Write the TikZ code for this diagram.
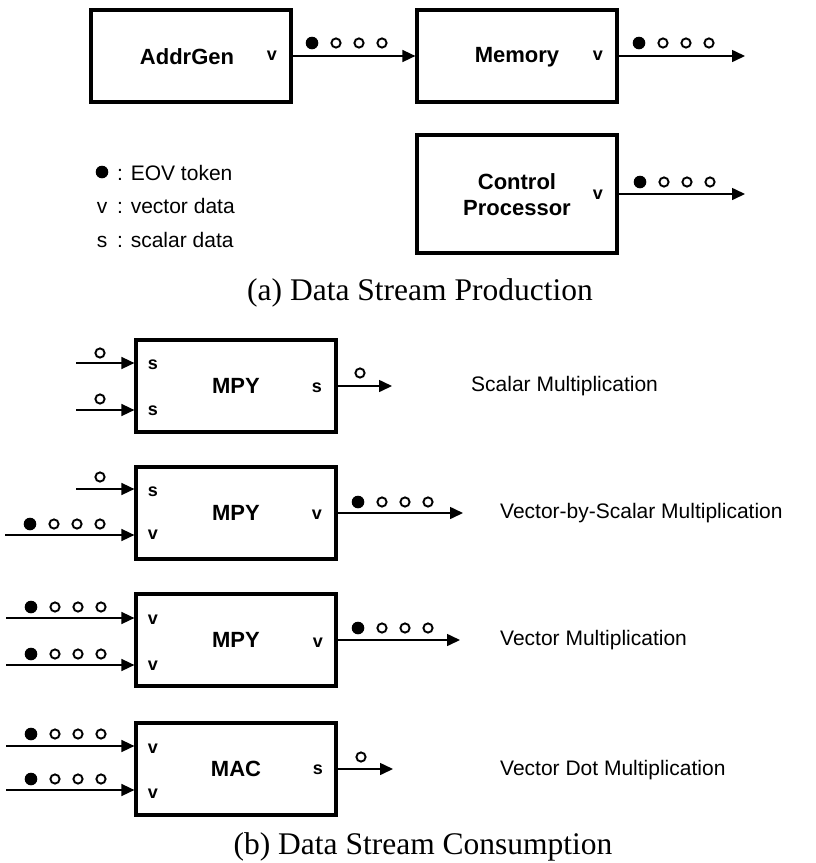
\documentclass[tikz,border=0pt]{standalone}
\usepackage{fontspec}
\setmainfont{Liberation Serif}
\setsansfont{Liberation Sans}
\usetikzlibrary{arrows.meta}
\tikzset{
  blk/.style={draw, line width=3.2pt, minimum width=200pt, minimum height=92pt, inner sep=0pt,
    font=\sffamily\bfseries\fontsize{22}{25}\selectfont, align=center},
  port/.style={font=\sffamily\bfseries\fontsize{18}{20}\selectfont, inner sep=0pt},
  txt/.style={font=\sffamily\fontsize{21}{24}\selectfont, inner sep=0pt, anchor=west},
  legtxt/.style={font=\sffamily\fontsize{21}{24}\selectfont, inner sep=0pt, anchor=base west},
  legsym/.style={font=\sffamily\fontsize{21}{24}\selectfont, inner sep=0pt, anchor=base},
  captxt/.style={font=\rmfamily\fontsize{31.5}{34}\selectfont, inner sep=0pt},
  arr/.style={line width=1.6pt, -{Triangle[length=13pt,width=12pt]}},
}
\newcommand{\tokF}[2]{\fill (#1,#2) circle (6.3pt);}
\newcommand{\tokO}[2]{\draw[line width=1.9pt] (#1,#2) circle (4.6pt);}
\newcommand{\tokRow}[2]{\tokF{#1}{#2}\tokO{#1+24}{#2}\tokO{#1+47}{#2}\tokO{#1+70}{#2}}
\begin{document}
\begin{tikzpicture}[x=1pt,y=-1pt]
\useasboundingbox (0,0) rectangle (816,863);

% ---------- (a) production ----------
\node[blk] (ag) at (191,56) {};
\node[blk] (mem) at (517,56) {};
\node[blk, minimum height=118pt] (cp) at (517,194) {};
\node[font=\sffamily\bfseries\fontsize{22}{25}\selectfont] (agt) at (187,57) {AddrGen};
\node[font=\sffamily\bfseries\fontsize{22}{25}\selectfont] (memt) at (517,57) {Memory};
\node[font=\sffamily\bfseries\fontsize{22}{26}\selectfont, align=center] (cpt) at (517,195) {Control\\Processor};
\node[port] (agv) at (272,56) {v};
\node[port] (memv) at (598,56) {v};
\node[port] (cpv) at (598,195) {v};

\coordinate (memo) at (745,56);
\coordinate (cpo) at (745,194);
\draw[arr] (ag.east) -- (mem.west);
\draw[arr] (mem.east) -- (memo);
\draw[arr] (cp.east |- cpo) -- (cpo);
\tokRow{312}{43}
\tokRow{639}{43}
\tokRow{640}{182}

% legend
\fill (102,172) circle (6.3pt);
\node[legtxt] (l1) at (117,180) {: EOV token};
\node[legsym] (l2s) at (102,213) {v};
\node[legtxt] (l2) at (117,213) {: vector data};
\node[legsym] (l3s) at (102,247) {s};
\node[legtxt] (l3) at (117,247) {: scalar data};

\node[captxt] (capa) at (420,293) {(a) Data Stream Production};

% ---------- (b) consumption ----------
% box 1 : scalar multiplication
\node[blk] (m1) at (236,386) {MPY};
\node[port] (m1a) at (153,365) {s};
\node[port] (m1b) at (153,411) {s};
\node[port] (m1o) at (317,388) {s};
\coordinate (i1a) at (76,363);
\coordinate (i1b) at (76,410);
\coordinate (o1) at (392,386);
\draw[arr] (i1a) -- (m1.west |- i1a);
\draw[arr] (i1b) -- (m1.west |- i1b);
\draw[arr] (m1.east |- o1) -- (o1);
\tokO{100}{353}
\tokO{100}{399}
\tokO{360}{373}
\node[txt] (t1) at (471,386) {Scalar Multiplication};

% box 2 : vector-by-scalar
\node[blk] (m2) at (236,513) {MPY};
\node[port] (m2a) at (153,492) {s};
\node[port] (m2b) at (153,535) {v};
\node[port] (m2o) at (317,515) {v};
\coordinate (i2a) at (76,489);
\coordinate (i2b) at (5,535);
\coordinate (o2) at (463,513);
\draw[arr] (i2a) -- (m2.west |- i2a);
\draw[arr] (i2b) -- (m2.west |- i2b);
\draw[arr] (m2.east |- o2) -- (o2);
\tokO{100}{477}
\tokRow{30}{524}
\tokRow{358}{502}
\node[txt] (t2) at (500,513) {Vector-by-Scalar Multiplication};

% box 3 : vector multiplication
\node[blk] (m3) at (236,640) {MPY};
\node[port] (m3a) at (153,620) {v};
\node[port] (m3b) at (153,666) {v};
\node[port] (m3o) at (318,643) {v};
\coordinate (i3a) at (6,618);
\coordinate (i3b) at (6,665);
\coordinate (o3) at (460,640);
\draw[arr] (i3a) -- (m3.west |- i3a);
\draw[arr] (i3b) -- (m3.west |- i3b);
\draw[arr] (m3.east |- o3) -- (o3);
\tokRow{31}{607}
\tokRow{31}{654}
\tokRow{358}{628}
\node[txt] (t3) at (500,640) {Vector Multiplication};

% box 4 : vector dot multiplication
\node[blk] (m4) at (236,769) {MAC};
\node[port] (m4a) at (153,749) {v};
\node[port] (m4b) at (153,794) {v};
\node[port] (m4o) at (318,770) {s};
\coordinate (i4a) at (6,746);
\coordinate (i4b) at (6,790);
\coordinate (o4) at (393,769);
\draw[arr] (i4a) -- (m4.west |- i4a);
\draw[arr] (i4b) -- (m4.west |- i4b);
\draw[arr] (m4.east |- o4) -- (o4);
\tokRow{31}{734}
\tokRow{31}{779}
\tokO{361}{757}
\node[txt] (t4) at (500,770) {Vector Dot Multiplication};

\node[captxt] (capb) at (423,847) {(b) Data Stream Consumption};
\end{tikzpicture}
\end{document}
